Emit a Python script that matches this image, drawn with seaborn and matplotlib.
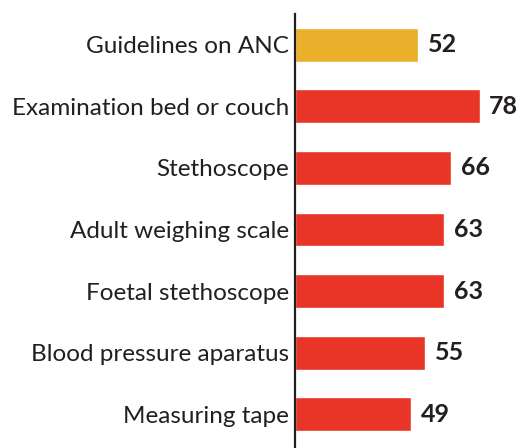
import pandas as pd
import matplotlib.pyplot as plt
import seaborn as sns

items = ["Guidelines on ANC", "Examination bed or couch", "Stethoscope",
         "Adult weighing scale", "Foetal stethoscope", "Blood pressure aparatus",
         "Measuring tape"]
values = [52, 78, 66, 63, 63, 55, 49]
group = ["guide", "equip", "equip", "equip", "equip", "equip", "equip"]

df = pd.DataFrame({"item": items, "value": values, "group": group})
palette = {"guide": "#EAB02C", "equip": "#E93527"}

sns.set_style("white")
plt.rcParams['font.family'] = ['Lato', 'DejaVu Sans']

fig = plt.figure(figsize=(5.21, 4.48), dpi=100)
ax = fig.add_axes([295 / 521, 0, 226 / 521, 1 - 14 / 448])

sns.barplot(data=df, x="value", y="item", hue="group", palette=palette,
            dodge=False, width=0.55, saturation=1, legend=False, ax=ax)

for i, v in enumerate(values):
    ax.text(v + 4, i, str(v), va="center", ha="left", fontsize=18,
            fontweight="bold", color="#231F20")

ax.set_xlim(0, 95.4)
ax.set_ylim(6.55, -0.5)
ax.set_xlabel("")
ax.set_ylabel("")
ax.set_xticks([])
ax.tick_params(axis="y", length=0, pad=4.5, labelsize=17.5, labelcolor="#231F20")
for lab in ax.get_yticklabels():
    lab.set_fontweight("normal")
for s in ["top", "right", "bottom"]:
    ax.spines[s].set_visible(False)
ax.spines["left"].set_color("#231F20")
ax.spines["left"].set_linewidth(1.6)

fig.savefig("out.png", dpi=100)
